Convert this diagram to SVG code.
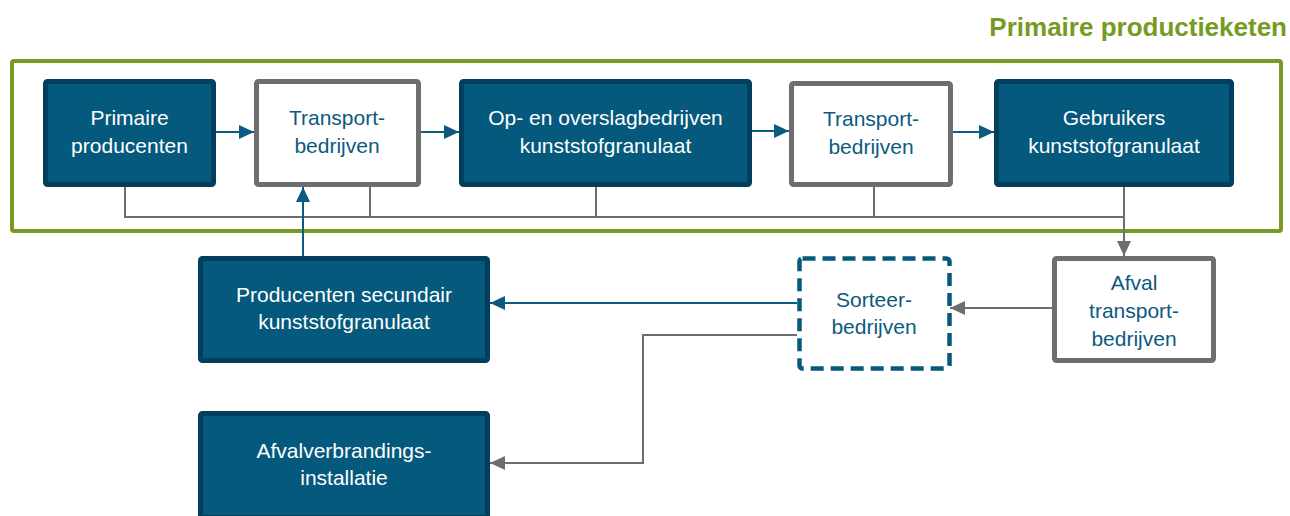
<svg xmlns="http://www.w3.org/2000/svg" width="1290" height="516" viewBox="0 0 1290 516">
<defs>
<style>
.dark{fill:#04597d;stroke:#023f5e;stroke-width:5}
.light{fill:#ffffff;stroke:#6e6e6e;stroke-width:5}
.dash{fill:#ffffff;stroke:#04597d;stroke-width:4.5;stroke-dasharray:13 7}
.tw{font-family:"Liberation Sans",Arial,sans-serif;font-size:21px;fill:#ffffff;text-anchor:middle}
.tb{font-family:"Liberation Sans",Arial,sans-serif;font-size:21px;fill:#0b5a80;text-anchor:middle}
.bl{fill:none;stroke:#0b5a80;stroke-width:2}
.gr{fill:none;stroke:#6e6e6e;stroke-width:2}
</style>
<marker id="ab" viewBox="0 0 15 14" refX="15" refY="7" markerWidth="15" markerHeight="14" markerUnits="userSpaceOnUse" orient="auto">
<path d="M0,0 L15,7 L0,14 Z" fill="#0b5a80"/>
</marker>
<marker id="ag" viewBox="0 0 15 14" refX="15" refY="7" markerWidth="15" markerHeight="14" markerUnits="userSpaceOnUse" orient="auto">
<path d="M0,0 L15,7 L0,14 Z" fill="#6e6e6e"/>
</marker>
</defs>
<rect width="1290" height="516" fill="#ffffff"/>
<g id="frame">
<rect x="12" y="61" width="1269" height="170" rx="2" fill="none" stroke="#789a22" stroke-width="4"/>
<text x="1287" y="36" font-family="'Liberation Sans',Arial,sans-serif" font-size="26" font-weight="bold" fill="#769a22" text-anchor="end">Primaire productieketen</text>
</g>
<g id="connectors">
<path class="gr" d="M125,187 V217 H1124"/>
<path class="gr" d="M370,187 V217"/>
<path class="gr" d="M596,187 V217"/>
<path class="gr" d="M874,187 V217"/>
<path class="gr" d="M1124,187 V256" marker-end="url(#ag)"/>
<path class="bl" d="M216,132 H254" marker-end="url(#ab)"/>
<path class="bl" d="M421,132 H459" marker-end="url(#ab)"/>
<path class="bl" d="M752,131 H789" marker-end="url(#ab)"/>
<path class="bl" d="M953,132 H994" marker-end="url(#ab)"/>
<path class="bl" d="M303,256 V187" marker-end="url(#ab)"/>
<path class="gr" d="M1052,308 H950" marker-end="url(#ag)"/>
<path class="bl" d="M797,303 H490" marker-end="url(#ab)"/>
<path class="gr" d="M797,335 H643 V463 H490" marker-end="url(#ag)"/>
</g>
<g id="n1">
<rect class="dark" x="45.5" y="81.5" width="168" height="103" rx="2"/>
<text class="tw" x="129.5" y="125">Primaire</text>
<text class="tw" x="129.5" y="153">producenten</text>
</g>
<g id="n2">
<rect class="light" x="256.5" y="81.5" width="162" height="103" rx="2"/>
<text class="tb" x="337" y="125">Transport-</text>
<text class="tb" x="337" y="153">bedrijven</text>
</g>
<g id="n3">
<rect class="dark" x="461.5" y="81.5" width="288" height="103" rx="2"/>
<text class="tw" x="605.5" y="125">Op- en overslagbedrijven</text>
<text class="tw" x="605.5" y="153">kunststofgranulaat</text>
</g>
<g id="n4">
<rect class="light" x="791.5" y="83.5" width="159" height="101" rx="2"/>
<text class="tb" x="871" y="126">Transport-</text>
<text class="tb" x="871" y="154">bedrijven</text>
</g>
<g id="n5">
<rect class="dark" x="996.5" y="81.5" width="235" height="103" rx="2"/>
<text class="tw" x="1114" y="125">Gebruikers</text>
<text class="tw" x="1114" y="153">kunststofgranulaat</text>
</g>
<g id="n6">
<rect class="light" x="1054.5" y="258.5" width="159" height="102" rx="2"/>
<text class="tb" x="1134" y="290">Afval</text>
<text class="tb" x="1134" y="318">transport-</text>
<text class="tb" x="1134" y="346">bedrijven</text>
</g>
<g id="n7">
<rect class="dash" x="799.5" y="258.5" width="150" height="110" rx="3"/>
<text class="tb" x="874" y="307">Sorteer-</text>
<text class="tb" x="874" y="334">bedrijven</text>
</g>
<g id="n8">
<rect class="dark" x="200.5" y="258.5" width="287" height="102" rx="2"/>
<text class="tw" x="344" y="302">Producenten secundair</text>
<text class="tw" x="344" y="329">kunststofgranulaat</text>
</g>
<g id="n9">
<rect class="dark" x="200.5" y="413.5" width="287" height="104" rx="2"/>
<text class="tw" x="344" y="458">Afvalverbrandings-</text>
<text class="tw" x="344" y="485">installatie</text>
</g>
</svg>
